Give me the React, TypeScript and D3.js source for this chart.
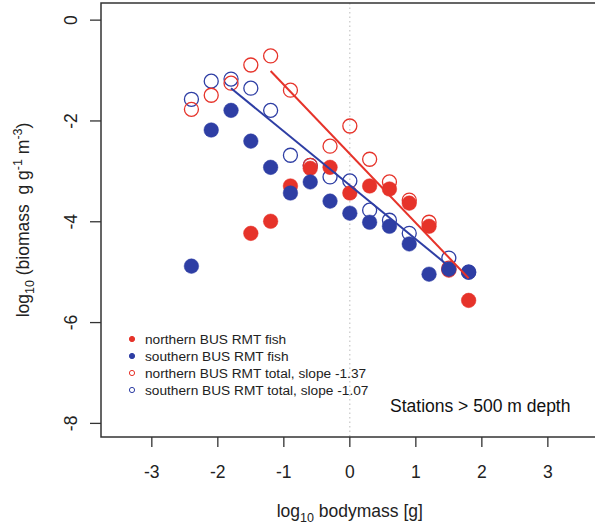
import React, { useEffect, useRef } from 'react';
import * as d3 from 'd3';

// log10 bodymass bins
const bins = [-2.4, -2.1, -1.8, -1.5, -1.2, -0.9, -0.6, -0.3, 0, 0.3, 0.6, 0.9, 1.2, 1.5, 1.8];

// log10 biomass, null = no point
const northFish = [null, null, null, -4.23, -3.99, -3.29, -2.94, -2.92, -3.43, -3.29, -3.35, -3.63, -4.09, -4.96, -5.56];
const southFish = [-4.88, -2.18, -1.79, -2.40, -2.92, -3.43, -3.21, -3.59, -3.83, -4.01, -4.09, -4.44, -5.04, -4.94, -5.00];
const northTotal = [-1.77, -1.49, -1.25, -0.89, -0.71, -1.39, -2.88, -2.50, -2.10, -2.76, -3.21, -3.57, -4.01, -4.92, null];
const southTotal = [-1.57, -1.21, -1.17, -1.35, -1.79, -2.68, -2.88, -3.11, -3.19, -3.77, -3.97, -4.23, null, -4.72, -5.00];

// fitted lines: [x0, x1], value at x0, slope
const northFit = { x: [-1.2, 1.8], y0: -1.01, slope: -1.37 };
const southFit = { x: [-1.8, 1.5], y0: -1.35, slope: -1.07 };

const xTicks = [-3, -2, -1, 0, 1, 2, 3];
const yTicks = [0, -2, -4, -6, -8];

const legendLabels = [
  'northern BUS RMT fish',
  'southern BUS RMT fish',
  'northern BUS RMT total, slope -1.37',
  'southern BUS RMT total, slope -1.07'
];

const RED = '#e6332a';
const BLUE = '#2e3ea4';
const W = 595, H = 524;

export default function App() {
  const svgRef = useRef<SVGSVGElement>(null);

  useEffect(() => {
    const svg = d3.select(svgRef.current);
    svg.selectAll('*').remove();

    const box = { left: 101, top: 3, right: 600, bottom: 437 };
    const x = d3.scaleLinear().domain([-3.77, 3.79]).range([box.left, box.right]);
    const y = d3.scaleLinear().domain([-8.27, 0.34]).range([box.bottom, box.top]);

    const font = 'Liberation Sans, Arial, sans-serif';
    const txt = '#222';
    const big = '17.5px';
    const small = '12.5px';

    // dotted zero line
    svg.append('line')
      .attr('x1', x(0)).attr('x2', x(0))
      .attr('y1', box.top).attr('y2', box.bottom)
      .attr('stroke', '#bbb').attr('stroke-width', 1)
      .attr('stroke-dasharray', '1.5 3');

    // points
    const drawPts = (vals, filled, color) => {
      const pts = bins.map((b, i) => ({ b, v: vals[i] })).filter(d => d.v !== null);
      svg.append('g').selectAll('circle')
        .data(pts)
        .join('circle')
          .attr('cx', d => x(d.b))
          .attr('cy', d => y(d.v))
          .attr('r', filled ? 7.3 : 7)
          .attr('fill', filled ? color : 'none')
          .attr('stroke', color)
          .attr('stroke-width', filled ? 0.5 : 1.3);
    };
    drawPts(southTotal, false, BLUE);
    drawPts(northTotal, false, RED);
    drawPts(northFish, true, RED);
    drawPts(southFish, true, BLUE);

    // fit lines
    const drawFit = (f, color) => {
      const line = d3.line<number>().x(d => x(d)).y(d => y(f.y0 + f.slope * (d - f.x[0])));
      svg.append('path')
        .attr('d', line(f.x))
        .attr('stroke', color).attr('stroke-width', 2).attr('fill', 'none');
    };
    drawFit(southFit, BLUE);
    drawFit(northFit, RED);

    // box
    svg.append('rect')
      .attr('x', box.left).attr('y', box.top)
      .attr('width', box.right - box.left).attr('height', box.bottom - box.top)
      .attr('fill', 'none').attr('stroke', '#333').attr('stroke-width', 1.5);

    // x axis
    const xa = svg.append('g');
    xTicks.forEach(t => {
      xa.append('line')
        .attr('x1', x(t)).attr('x2', x(t))
        .attr('y1', box.bottom).attr('y2', box.bottom + 10)
        .attr('stroke', '#333').attr('stroke-width', 1.3);
      xa.append('text')
        .attr('x', x(t)).attr('y', box.bottom + 41)
        .attr('text-anchor', 'middle')
        .style('font-family', font).style('font-size', big).attr('fill', txt)
        .text(t);
    });

    // y axis
    const ya = svg.append('g');
    yTicks.forEach(t => {
      ya.append('line')
        .attr('x1', box.left - 11).attr('x2', box.left)
        .attr('y1', y(t)).attr('y2', y(t))
        .attr('stroke', '#333').attr('stroke-width', 1.3);
      ya.append('text')
        .attr('transform', `translate(${box.left - 24},${y(t)}) rotate(-90)`)
        .attr('text-anchor', 'middle')
        .style('font-family', font).style('font-size', big).attr('fill', txt)
        .text(t);
    });

    // axis titles
    const xt = svg.append('text')
      .attr('x', x(0)).attr('y', 517)
      .attr('text-anchor', 'middle')
      .style('font-family', font).style('font-size', big).attr('fill', txt);
    xt.append('tspan').text('log');
    xt.append('tspan').attr('dy', 5).style('font-size', small).text('10');
    xt.append('tspan').attr('dy', -5).text(' bodymass [g]');

    const yt = svg.append('text')
      .attr('transform', `translate(29,${(box.top + box.bottom) / 2}) rotate(-90)`)
      .attr('text-anchor', 'middle')
      .style('white-space', 'pre')
      .style('font-family', font).style('font-size', big).attr('fill', txt);
    yt.append('tspan').text('log');
    yt.append('tspan').attr('dy', 5).style('font-size', small).text('10');
    yt.append('tspan').attr('dy', -5).text(' (biomass  g g');
    yt.append('tspan').attr('dy', -7).style('font-size', small).text('-1');
    yt.append('tspan').attr('dy', 7).text(' m');
    yt.append('tspan').attr('dy', -7).style('font-size', small).text('-3');
    yt.append('tspan').attr('dy', 7).text(')');

    // legend
    const lg = svg.append('g');
    const legStyle = [
      { color: RED, filled: true },
      { color: BLUE, filled: true },
      { color: RED, filled: false },
      { color: BLUE, filled: false }
    ];
    legendLabels.forEach((lab, i) => {
      const cy = 339 + i * 17;
      lg.append('circle')
        .attr('cx', 132).attr('cy', cy).attr('r', 2.6)
        .attr('fill', legStyle[i].filled ? legStyle[i].color : 'none')
        .attr('stroke', legStyle[i].color).attr('stroke-width', 1);
      lg.append('text')
        .attr('x', 145).attr('y', cy + 4.8)
        .style('font-family', font).style('font-size', '13.7px').attr('fill', txt)
        .text(lab);
    });

    svg.append('text')
      .attr('x', 390).attr('y', 412)
      .style('font-family', font).style('font-size', big).attr('fill', '#111')
      .text('Stations > 500 m depth');
  }, []);

  return (
    <svg ref={svgRef} width={W} height={H}
      style={{ position: 'absolute', left: 0, top: 0, background: '#fff' }} />
  );
}
